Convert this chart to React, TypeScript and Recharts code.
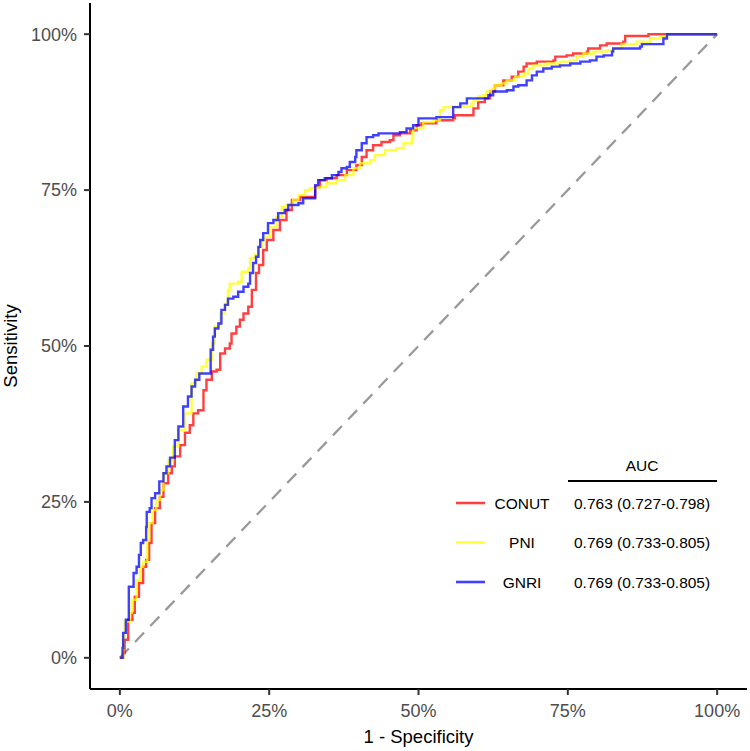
import { LineChart, Line, XAxis, YAxis } from 'recharts';

const xTicks = [0, 0.25, 0.5, 0.75, 1];
const yTicks = [0, 0.25, 0.5, 0.75, 1];

const seriesNames = ['CONUT', 'PNI', 'GNRI'];
const aucLabels = ['0.763 (0.727-0.798)', '0.769 (0.733-0.805)', '0.769 (0.733-0.805)'];
const seriesColors = ['#ff0000', '#ffff00', '#0000ff'];

// CONUT
const conutFpr = [0, 0.0055, 0.008, 0.014, 0.021, 0.025, 0.032, 0.039, 0.044, 0.049, 0.053, 0.059, 0.067, 0.073, 0.081, 0.087, 0.092, 0.101, 0.109, 0.117, 0.123, 0.131, 0.14, 0.145, 0.154, 0.162, 0.168, 0.176, 0.184, 0.187, 0.195, 0.201, 0.207, 0.215, 0.221, 0.228, 0.233, 0.24, 0.246, 0.257, 0.268, 0.279, 0.288, 0.302, 0.321, 0.327, 0.335, 0.346, 0.363, 0.38, 0.396, 0.405, 0.413, 0.424, 0.438, 0.452, 0.458, 0.469, 0.486, 0.497, 0.505, 0.53, 0.558, 0.561, 0.589, 0.592, 0.6, 0.611, 0.62, 0.628, 0.642, 0.656, 0.667, 0.676, 0.681, 0.698, 0.726, 0.729, 0.748, 0.759, 0.782, 0.784, 0.804, 0.815, 0.843, 0.846, 0.882, 0.885, 1];
const conutTpr = [0, 0.0075, 0.029, 0.061, 0.072, 0.098, 0.12, 0.146, 0.157, 0.184, 0.216, 0.24, 0.258, 0.28, 0.296, 0.307, 0.323, 0.341, 0.361, 0.373, 0.392, 0.397, 0.429, 0.446, 0.459, 0.462, 0.488, 0.496, 0.504, 0.52, 0.531, 0.542, 0.552, 0.563, 0.59, 0.617, 0.63, 0.654, 0.67, 0.686, 0.702, 0.718, 0.734, 0.739, 0.739, 0.755, 0.766, 0.769, 0.774, 0.782, 0.79, 0.803, 0.814, 0.822, 0.827, 0.83, 0.838, 0.841, 0.846, 0.854, 0.857, 0.862, 0.865, 0.87, 0.87, 0.881, 0.891, 0.897, 0.908, 0.918, 0.926, 0.932, 0.94, 0.948, 0.953, 0.956, 0.958, 0.964, 0.966, 0.969, 0.972, 0.977, 0.982, 0.985, 0.988, 0.997, 0.997, 1, 1];

// PNI
const pniFpr = [0, 0.0055, 0.008, 0.017, 0.02, 0.028, 0.034, 0.039, 0.046, 0.049, 0.055, 0.061, 0.067, 0.073, 0.081, 0.089, 0.098, 0.109, 0.12, 0.128, 0.137, 0.145, 0.154, 0.159, 0.168, 0.176, 0.181, 0.184, 0.198, 0.204, 0.215, 0.218, 0.226, 0.232, 0.238, 0.243, 0.251, 0.262, 0.271, 0.279, 0.29, 0.299, 0.31, 0.318, 0.332, 0.346, 0.363, 0.377, 0.391, 0.402, 0.419, 0.427, 0.444, 0.463, 0.475, 0.489, 0.491, 0.508, 0.525, 0.536, 0.542, 0.558, 0.589, 0.592, 0.6, 0.609, 0.614, 0.623, 0.628, 0.639, 0.648, 0.662, 0.676, 0.684, 0.692, 0.715, 0.737, 0.754, 0.765, 0.776, 0.793, 0.815, 0.826, 0.84, 0.86, 0.865, 0.888, 0.905, 0.916, 1];
const pniTpr = [0, 0.034, 0.058, 0.072, 0.093, 0.125, 0.146, 0.154, 0.189, 0.216, 0.237, 0.253, 0.269, 0.296, 0.317, 0.339, 0.365, 0.392, 0.44, 0.456, 0.467, 0.478, 0.504, 0.531, 0.552, 0.568, 0.59, 0.6, 0.603, 0.619, 0.625, 0.641, 0.646, 0.659, 0.67, 0.675, 0.691, 0.707, 0.723, 0.726, 0.734, 0.742, 0.75, 0.753, 0.755, 0.761, 0.766, 0.774, 0.785, 0.793, 0.798, 0.806, 0.814, 0.817, 0.825, 0.833, 0.849, 0.859, 0.862, 0.878, 0.883, 0.884, 0.889, 0.894, 0.9, 0.902, 0.908, 0.913, 0.918, 0.921, 0.926, 0.932, 0.937, 0.945, 0.95, 0.953, 0.956, 0.958, 0.964, 0.969, 0.972, 0.974, 0.977, 0.984, 0.984, 0.988, 0.993, 0.996, 1, 1];

// GNRI
const gnriFpr = [0, 0.0045, 0.0055, 0.01, 0.015, 0.015, 0.021, 0.023, 0.028, 0.032, 0.035, 0.039, 0.044, 0.045, 0.05, 0.053, 0.059, 0.066, 0.073, 0.078, 0.084, 0.092, 0.098, 0.106, 0.114, 0.12, 0.126, 0.133, 0.151, 0.152, 0.156, 0.159, 0.165, 0.17, 0.176, 0.181, 0.19, 0.198, 0.207, 0.215, 0.218, 0.223, 0.228, 0.232, 0.235, 0.24, 0.248, 0.257, 0.265, 0.276, 0.282, 0.299, 0.307, 0.327, 0.332, 0.343, 0.355, 0.366, 0.371, 0.38, 0.385, 0.394, 0.396, 0.405, 0.413, 0.424, 0.433, 0.458, 0.469, 0.48, 0.491, 0.5, 0.53, 0.556, 0.558, 0.57, 0.581, 0.609, 0.617, 0.625, 0.648, 0.659, 0.667, 0.681, 0.69, 0.698, 0.709, 0.723, 0.737, 0.754, 0.771, 0.787, 0.798, 0.81, 0.824, 0.826, 0.871, 0.874, 0.907, 0.91, 0.916, 1];
const gnriTpr = [0, 0.016, 0.04, 0.061, 0.072, 0.114, 0.114, 0.136, 0.146, 0.165, 0.184, 0.189, 0.21, 0.234, 0.24, 0.256, 0.264, 0.283, 0.296, 0.307, 0.321, 0.349, 0.371, 0.403, 0.419, 0.435, 0.446, 0.456, 0.456, 0.494, 0.515, 0.528, 0.536, 0.558, 0.566, 0.576, 0.579, 0.587, 0.595, 0.6, 0.617, 0.633, 0.643, 0.659, 0.67, 0.681, 0.697, 0.702, 0.713, 0.718, 0.726, 0.729, 0.737, 0.758, 0.766, 0.769, 0.774, 0.779, 0.785, 0.787, 0.795, 0.803, 0.814, 0.825, 0.835, 0.838, 0.841, 0.841, 0.843, 0.849, 0.854, 0.865, 0.867, 0.867, 0.883, 0.889, 0.897, 0.897, 0.902, 0.908, 0.91, 0.916, 0.918, 0.926, 0.934, 0.94, 0.945, 0.948, 0.95, 0.953, 0.956, 0.958, 0.964, 0.966, 0.972, 0.977, 0.98, 0.984, 0.984, 0.993, 1, 1];

// chance line
const diagFpr = [0, 1];
const diagTpr = [0, 1];

const toPoints = (fpr: number[], tpr: number[]) =>
  fpr.map((x, i) => ({ fpr: x, tpr: tpr[i] }));

const seriesData = [
  toPoints(conutFpr, conutTpr),
  toPoints(pniFpr, pniTpr),
  toPoints(gnriFpr, gnriTpr),
];
const diagData = toPoints(diagFpr, diagTpr);

const FONT = "Arial, 'Liberation Sans', sans-serif";
const pct = (v: number) => `${Math.round(v * 100)}%`;

export default function App() {
  return (
    <div style={{ position: 'absolute', left: 0, top: 0, width: 750, height: 751, background: '#fff' }}>
      <LineChart
        width={750}
        height={751}
        margin={{ top: 3, right: 3, bottom: 0, left: 0 }}
        style={{ fontFamily: FONT }}
      >
        <XAxis
          dataKey="fpr"
          type="number"
          domain={[-0.05, 1.05]}
          ticks={xTicks}
          tickFormatter={pct}
          height={62}
          allowDataOverflow
          axisLine={{ stroke: '#000', strokeWidth: 2 }}
          tickLine={{ stroke: '#333', strokeWidth: 2 }}
          tickSize={6}
          tickMargin={9}
          tick={{ fontSize: 18, fill: '#4d4d4d', fontFamily: FONT }}
        />
        <YAxis
          dataKey="tpr"
          type="number"
          domain={[-0.05, 1.05]}
          ticks={yTicks}
          tickFormatter={pct}
          width={90}
          allowDataOverflow
          axisLine={{ stroke: '#000', strokeWidth: 2 }}
          tickLine={{ stroke: '#333', strokeWidth: 2 }}
          tickSize={6}
          tickMargin={7}
          tick={{ fontSize: 18, fill: '#4d4d4d', fontFamily: FONT }}
        />
        <Line
          data={diagData}
          dataKey="tpr"
          type="linear"
          stroke="#999999"
          strokeWidth={2.3}
          strokeDasharray="13 9"
          dot={false}
          activeDot={false}
          isAnimationActive={false}
        />
        {seriesData.map((d, i) => (
          <Line
            key={seriesNames[i]}
            data={d}
            dataKey="tpr"
            name={seriesNames[i]}
            type="stepAfter"
            stroke={seriesColors[i]}
            strokeOpacity={0.75}
            strokeWidth={2.4}
            dot={false}
            activeDot={false}
            isAnimationActive={false}
          />
        ))}
      </LineChart>

      <svg
        width={750}
        height={751}
        style={{ position: 'absolute', left: 0, top: 0, pointerEvents: 'none', fontFamily: FONT }}
      >
        {/* axis titles */}
        <text x={418.5} y={743} textAnchor="middle" fontSize={18.5} fill="#000">
          1 - Specificity
        </text>
        <text
          x={17}
          y={346}
          textAnchor="middle"
          fontSize={18.5}
          fill="#000"
          transform="rotate(-90 17 346)"
        >
          Sensitivity
        </text>

        {/* AUC legend */}
        <text x={642} y={465} textAnchor="middle" dominantBaseline="central" fontSize={15.5} fill="#000">
          AUC
        </text>
        <line x1={568} x2={717} y1={481} y2={481} stroke="#000" strokeWidth={2.2} />
        {seriesNames.map((name, i) => {
          const cy = 503 + i * 39.5;
          return (
            <g key={name}>
              <line x1={456} x2={485} y1={cy} y2={cy} stroke={seriesColors[i]} strokeOpacity={0.75} strokeWidth={2.6} />
              <text x={522} y={cy} textAnchor="middle" dominantBaseline="central" fontSize={15.5} fill="#000">
                {name}
              </text>
              <text x={574} y={cy} dominantBaseline="central" fontSize={15.5} fill="#000">
                {aucLabels[i]}
              </text>
            </g>
          );
        })}
      </svg>
    </div>
  );
}
